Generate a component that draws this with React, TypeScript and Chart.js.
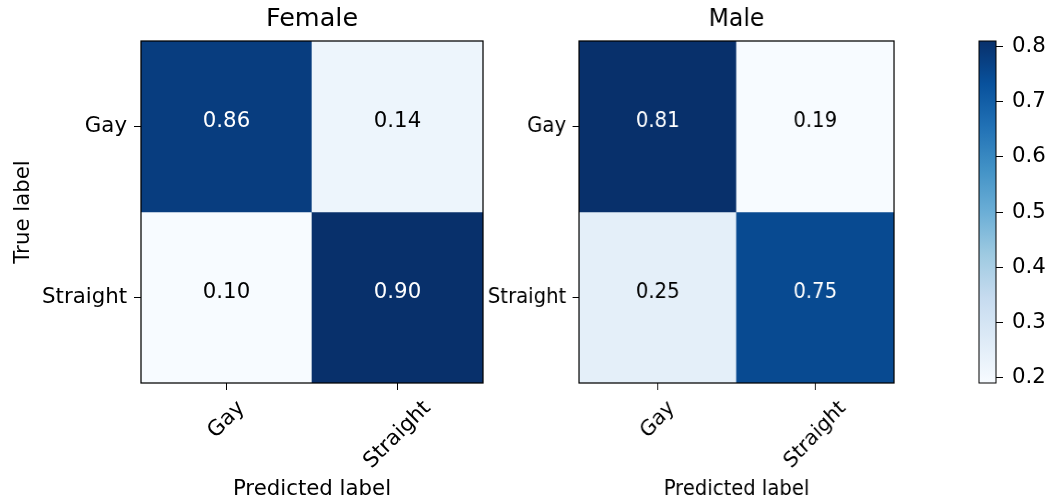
import React, { useEffect, useRef } from "react";
import { Chart, registerables } from "chart.js";

Chart.register(...registerables);

// ---------- data ----------
const PREDICTED_LABELS = ["Gay", "Straight"];
const TRUE_LABELS = ["Gay", "Straight"];
const PANEL_TITLES = ["Female", "Male"];
const FEMALE_VALUES = [
  [0.86, 0.14],
  [0.1, 0.9],
];
const MALE_VALUES = [
  [0.81, 0.19],
  [0.25, 0.75],
];
const COLORBAR_TICKS = [0.2, 0.3, 0.4, 0.5, 0.6, 0.7, 0.8];

// matplotlib "Blues" colormap anchor colours
const BLUES = [
  [247, 251, 255],
  [222, 235, 247],
  [198, 219, 239],
  [158, 202, 225],
  [107, 174, 214],
  [66, 146, 198],
  [33, 113, 181],
  [8, 81, 156],
  [8, 48, 107],
];

// ---------- layout / style ----------
const W = 1048;
const H = 503;
const AREA_TOP = 41;
const AREA_BOTTOM = 383;
const FONT = "'DejaVu Sans', sans-serif";
const FS = 21.3;
const TITLE_FS = 25.5;
const TICK_LEN = 7;
const TICK_PAD = 7;
const MALE_SQUEEZE = 315 / 342;

Chart.defaults.font.family = FONT;
Chart.defaults.color = "#000";

function blues(t: number): string {
  const x = Math.max(0, Math.min(1, t)) * (BLUES.length - 1);
  const i = Math.min(Math.floor(x), BLUES.length - 2);
  const f = x - i;
  const a = BLUES[i];
  const b = BLUES[i + 1];
  const c = a.map((v, k) => Math.round(v + (b[k] - v) * f));
  return `rgb(${c[0]},${c[1]},${c[2]})`;
}

const framePlugin = (lw: number) => ({
  id: "frame",
  afterDraw(chart: any) {
    const { ctx, chartArea: a } = chart;
    ctx.save();
    ctx.strokeStyle = "#000";
    ctx.lineWidth = lw;
    ctx.strokeRect(a.left, a.top, a.right - a.left, a.bottom - a.top);
    ctx.restore();
  },
});

function matrixConfig(
  title: string,
  values: number[][],
  areaLeft: number,
  areaRight: number,
  padLeft: number,
  showYTitle: boolean
): any {
  const flat = values.flat();
  const vmin = Math.min(...flat);
  const vmax = Math.max(...flat);
  const thresh = vmax / 2;

  const annotate = {
    id: "annotate",
    afterDatasetsDraw(chart: any) {
      const { ctx } = chart;
      const ys = chart.scales.y;
      ctx.save();
      ctx.font = `${FS}px ${FONT}`;
      ctx.textAlign = "center";
      ctx.textBaseline = "alphabetic";
      chart.data.datasets.forEach((_: any, r: number) => {
        const meta = chart.getDatasetMeta(r);
        meta.data.forEach((bar: any, c: number) => {
          const v = values[r][c];
          ctx.fillStyle = v > thresh ? "#fff" : "#000";
          ctx.fillText(v.toFixed(2), bar.x, ys.getPixelForValue(r));
        });
      });
      ctx.restore();
    },
  };

  const xLabels = {
    id: "xLabels",
    afterDraw(chart: any) {
      const { ctx } = chart;
      const xs = chart.scales.x;
      ctx.save();
      ctx.font = `${FS}px ${FONT}`;
      ctx.fillStyle = "#000";
      ctx.textAlign = "center";
      ctx.textBaseline = "middle";
      xs.ticks.forEach((_: any, i: number) => {
        const label = chart.data.labels[i];
        const x = xs.getPixelForTick(i);
        const w = ctx.measureText(label).width;
        const h = FS * 1.05;
        const d = (w + h) * Math.SQRT1_2;
        const cy = chart.chartArea.bottom + TICK_LEN + TICK_PAD + d / 2;
        ctx.save();
        ctx.translate(x, cy);
        ctx.rotate(-Math.PI / 4);
        ctx.fillText(label, 0, 0);
        ctx.restore();
      });
      ctx.restore();
    },
  };

  return {
    type: "bar",
    data: {
      labels: PREDICTED_LABELS,
      datasets: TRUE_LABELS.map((_, r) => ({
        label: TRUE_LABELS[r],
        data: PREDICTED_LABELS.map(() => [r - 0.5, r + 0.5]),
        backgroundColor: values[r].map((v) => blues((v - vmin) / (vmax - vmin))),
        borderWidth: 0,
        barPercentage: 1,
        categoryPercentage: 1,
        grouped: false,
      })),
    },
    options: {
      responsive: false,
      animation: false,
      events: [],
      layout: { padding: { left: padLeft, right: W - areaRight, top: 0, bottom: 0 } },
      plugins: {
        legend: { display: false },
        tooltip: { enabled: false },
        title: {
          display: true,
          text: title,
          color: "#000",
          fullSize: false,
          font: { size: TITLE_FS, weight: "normal", family: FONT, lineHeight: 1.2 },
          padding: { top: 4.5, bottom: 5.9 },
        },
      },
      scales: {
        x: {
          type: "category",
          offset: true,
          grid: {
            display: true,
            offset: false,
            drawOnChartArea: false,
            drawTicks: true,
            tickLength: TICK_LEN,
            color: "#000",
            lineWidth: 1,
          },
          border: { display: false },
          ticks: { display: false },
          title: {
            display: true,
            text: "Predicted label",
            color: "#000",
            font: { size: FS, family: FONT, lineHeight: 1.2 },
            padding: { top: 0, bottom: 0.3 },
          },
          afterFit(scale: any) {
            scale.height = H - AREA_BOTTOM;
          },
        },
        y: {
          type: "linear",
          min: -0.5,
          max: 1.5,
          reverse: true,
          grid: {
            display: true,
            drawOnChartArea: false,
            drawTicks: true,
            tickLength: TICK_LEN,
            color: "#000",
            lineWidth: 1,
          },
          border: { display: false },
          afterBuildTicks(scale: any) {
            scale.ticks = TRUE_LABELS.map((_, i) => ({ value: i }));
          },
          ticks: {
            autoSkip: false,
            padding: TICK_PAD,
            color: "#000",
            font: { size: FS, family: FONT },
            callback: (v: any) => TRUE_LABELS[Number(v)],
          },
          title: {
            display: showYTitle,
            text: "True label",
            color: "#000",
            font: { size: FS, family: FONT, lineHeight: 1.2 },
            padding: { top: 10.5, bottom: 0 },
          },
          afterFit(scale: any) {
            scale.width = areaLeft - padLeft;
          },
        },
      },
    },
    plugins: [annotate, xLabels, framePlugin(1.25)],
  };
}

function colorbarConfig(values: number[][], areaLeft: number, areaRight: number): any {
  const flat = values.flat();
  const vmin = Math.min(...flat);
  const vmax = Math.max(...flat);
  return {
    type: "bar",
    data: {
      labels: [""],
      datasets: [
        {
          data: [[vmin, vmax]],
          backgroundColor: (c: any) => {
            const chart = c.chart;
            const ys = chart.scales && chart.scales.y;
            if (!ys || !chart.chartArea) return blues(0.5);
            const g = chart.ctx.createLinearGradient(
              0,
              ys.getPixelForValue(vmin),
              0,
              ys.getPixelForValue(vmax)
            );
            BLUES.forEach((col, i) => g.addColorStop(i / (BLUES.length - 1), `rgb(${col[0]},${col[1]},${col[2]})`));
            return g;
          },
          borderWidth: 0,
          barPercentage: 1,
          categoryPercentage: 1,
        },
      ],
    },
    options: {
      responsive: false,
      animation: false,
      events: [],
      layout: { padding: { left: areaLeft, right: 0, top: AREA_TOP, bottom: H - AREA_BOTTOM } },
      plugins: { legend: { display: false }, tooltip: { enabled: false }, title: { display: false } },
      scales: {
        x: { display: false },
        y: {
          type: "linear",
          position: "right",
          min: vmin,
          max: vmax,
          grid: {
            display: true,
            drawOnChartArea: false,
            drawTicks: true,
            tickLength: TICK_LEN,
            color: "#000",
            lineWidth: 1,
          },
          border: { display: false },
          afterBuildTicks(scale: any) {
            scale.ticks = COLORBAR_TICKS.map((v) => ({ value: v }));
          },
          ticks: {
            autoSkip: false,
            padding: 9,
            color: "#000",
            font: { size: FS, family: FONT },
            callback: (v: any) => Number(v).toFixed(1),
          },
          afterFit(scale: any) {
            scale.width = W - areaRight;
          },
        },
      },
    },
    plugins: [framePlugin(1)],
  };
}

function ChartCanvas({ config, extraStyle }: { config: () => any; extraStyle?: any }) {
  const ref = useRef<HTMLCanvasElement | null>(null);
  useEffect(() => {
    if (!ref.current) return;
    const chart = new Chart(ref.current, config());
    return () => chart.destroy();
  }, []);
  return (
    <canvas
      ref={ref}
      width={W}
      height={H}
      style={{ position: "absolute", left: 0, top: 0, width: W, height: H, ...(extraStyle || {}) }}
    />
  );
}

export default function App() {
  return (
    <div
      style={{
        position: "fixed",
        left: 0,
        top: 0,
        width: W,
        height: H,
        background: "#fff",
        overflow: "hidden",
      }}
    >
      <ChartCanvas config={() => matrixConfig(PANEL_TITLES[0], FEMALE_VALUES, 141, 483, 0, true)} />
      <ChartCanvas
        config={() => matrixConfig(PANEL_TITLES[1], MALE_VALUES, 579, 921, 470, false)}
        extraStyle={{ transform: `scaleX(${MALE_SQUEEZE})`, transformOrigin: "579px 0px" }}
      />
      <ChartCanvas config={() => colorbarConfig(MALE_VALUES, 979, 996)} />
    </div>
  );
}
